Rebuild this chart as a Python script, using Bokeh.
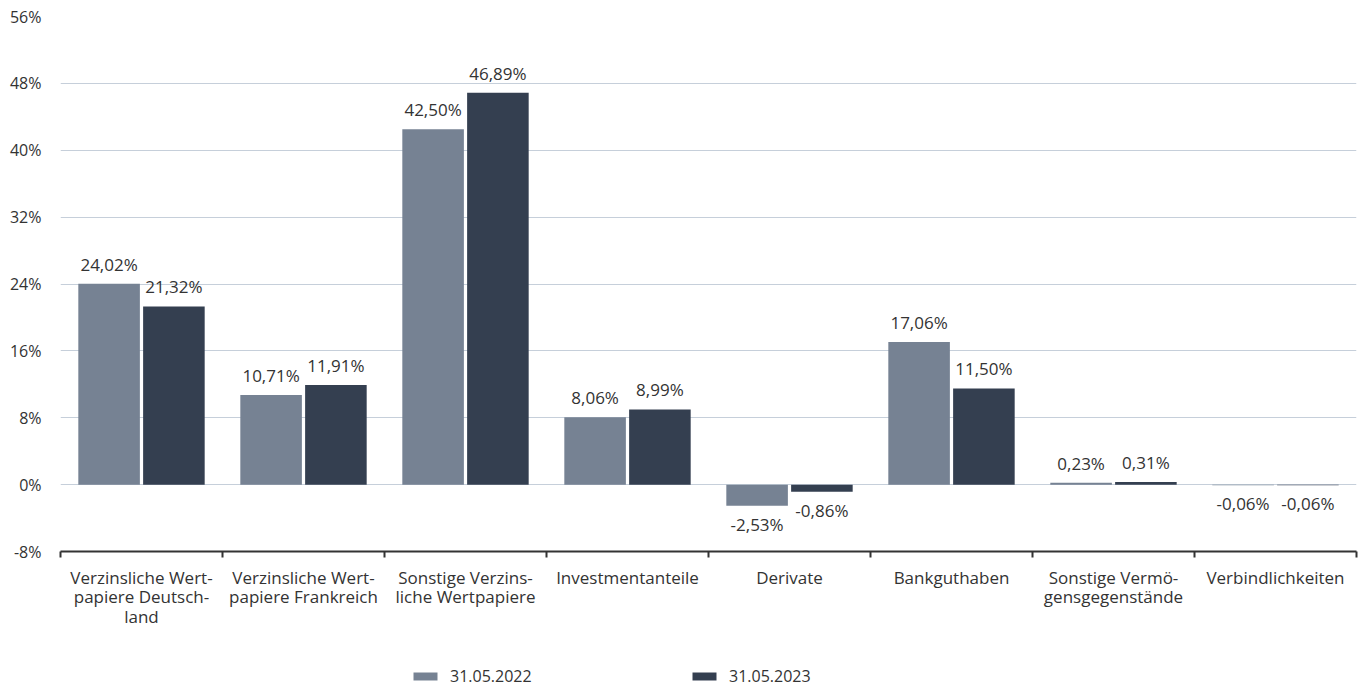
from bokeh.plotting import figure
from bokeh.layouts import column
from bokeh.models import (ColumnDataSource, Range1d, FixedTicker, PrintfTickFormatter,
                          Legend, LegendItem)
from bokeh.transform import dodge
from bokeh.core.properties import value
from bokeh.embed import file_html
from bokeh.resources import INLINE

categories = [
    "Verzinsliche Wert-\npapiere Deutsch-\nland",
    "Verzinsliche Wert-\npapiere Frankreich",
    "Sonstige Verzins-\nliche Wertpapiere",
    "Investmentanteile",
    "Derivate",
    "Bankguthaben",
    "Sonstige Vermö-\ngensgegenstände",
    "Verbindlichkeiten",
]
series_names = ["31.05.2022", "31.05.2023"]
values_2022 = [24.02, 10.71, 42.50, 8.06, -2.53, 17.06, 0.23, -0.06]
values_2023 = [21.32, 11.91, 46.89, 8.99, -0.86, 11.50, 0.31, -0.06]
y_ticks = [-8, 0, 8, 16, 24, 32, 40, 48, 56]

FONT = "Open Sans"
TEXT = "#333333"
C1 = "#768293"
C2 = "#343f50"

centers = [i + 0.5 for i in range(len(categories))]
bounds = list(range(len(categories) + 1))

def fmt(v):
    return f"{v:.2f}".replace(".", ",") + "%"

def split(vals):
    pos = [v if v >= 0 else float("nan") for v in vals]
    neg = [v if v < 0 else float("nan") for v in vals]
    return pos, neg

src = ColumnDataSource(dict(x=centers, v22=values_2022, v23=values_2023))
xr = Range1d(0, len(categories))

p = figure(width=1362, height=640, output_backend="svg", toolbar_location=None,
           x_range=xr, y_range=Range1d(-8, 56),
           min_border_left=60, min_border_right=6, min_border_top=16, min_border_bottom=89)
p.outline_line_color = None
p.background_fill_color = None

p.vbar(x=dodge("x", -0.2), top="v22", bottom=0, width=0.38, source=src,
       fill_color=C1, line_color=None)
p.vbar(x=dodge("x", 0.2), top="v23", bottom=0, width=0.38, source=src,
       fill_color=C2, line_color=None)

for vals, off in ((values_2022, -0.2), (values_2023, 0.2)):
    labs = [fmt(v) for v in vals]
    pos, neg = split(vals)
    sp = ColumnDataSource(dict(x=[c + off for c in centers], y=pos, t=labs))
    sn = ColumnDataSource(dict(x=[c + off for c in centers], y=neg, t=labs))
    p.text(x="x", y="y", text="t", source=sp, text_align="center", text_baseline="bottom",
           y_offset=-8, text_font=value(FONT), text_font_size="17px", text_color=TEXT)
    p.text(x="x", y="y", text="t", source=sn, text_align="center", text_baseline="top",
           y_offset=7, text_font=value(FONT), text_font_size="17px", text_color=TEXT)

# y axis
p.yaxis.ticker = FixedTicker(ticks=y_ticks)
p.yaxis.formatter = PrintfTickFormatter(format="%d%%")
p.yaxis.axis_line_color = None
p.yaxis.major_tick_line_color = None
p.yaxis.minor_tick_line_color = None
p.yaxis.major_label_standoff = 13
p.yaxis.major_label_text_font = FONT
p.yaxis.major_label_text_font_size = "16px"
p.yaxis.major_label_text_color = TEXT

p.ygrid.ticker = FixedTicker(ticks=y_ticks)
p.ygrid.grid_line_color = "#c6cfda"
p.ygrid.grid_line_width = 1
p.xgrid.grid_line_color = None

# x axis
p.xaxis.ticker = FixedTicker(ticks=centers, minor_ticks=bounds)
p.xaxis.major_label_overrides = {c: lab for c, lab in zip(centers, categories)}
p.xaxis.major_tick_line_color = None
p.xaxis.major_tick_out = 0
p.xaxis.major_tick_in = 0
p.xaxis.minor_tick_line_color = "#333333"
p.xaxis.minor_tick_line_width = 2
p.xaxis.minor_tick_out = 6
p.xaxis.minor_tick_in = 0
p.xaxis.axis_line_color = "#333333"
p.xaxis.axis_line_width = 2
p.xaxis.major_label_standoff = 8
p.xaxis.major_label_text_font = FONT
p.xaxis.major_label_text_font_size = "17px"
p.xaxis.major_label_text_color = TEXT
p.xaxis.major_label_text_line_height = 0.85

# legend strip below the chart (same series, bars kept out of its view)
lg = figure(width=1362, height=49, output_backend="svg", toolbar_location=None,
            x_range=xr, y_range=Range1d(1000, 1001),
            x_axis_location=None, y_axis_location=None,
            min_border_left=0, min_border_right=0, min_border_top=0, min_border_bottom=0)
lg.outline_line_color = None
lg.background_fill_color = None
lg.grid.grid_line_color = None
g1 = lg.vbar(x=dodge("x", -0.2), top="v22", bottom=0, width=0.38, source=src,
             fill_color=C1, line_color=None)
g2 = lg.vbar(x=dodge("x", 0.2), top="v23", bottom=0, width=0.38, source=src,
             fill_color=C2, line_color=None)

legend = Legend(items=[LegendItem(label=series_names[0], renderers=[g1]),
                       LegendItem(label=series_names[1], renderers=[g2])],
                orientation="horizontal", location=(350, 2),
                padding=0, margin=0, spacing=139, label_width=100,
                glyph_width=30, glyph_height=10, label_standoff=10,
                border_line_color=None, background_fill_color=None,
                label_text_font=FONT, label_text_font_size="16px",
                label_text_color=TEXT)
lg.add_layout(legend, "center")

open("out.html", "w").write(file_html(column(p, lg, spacing=0), INLINE))
